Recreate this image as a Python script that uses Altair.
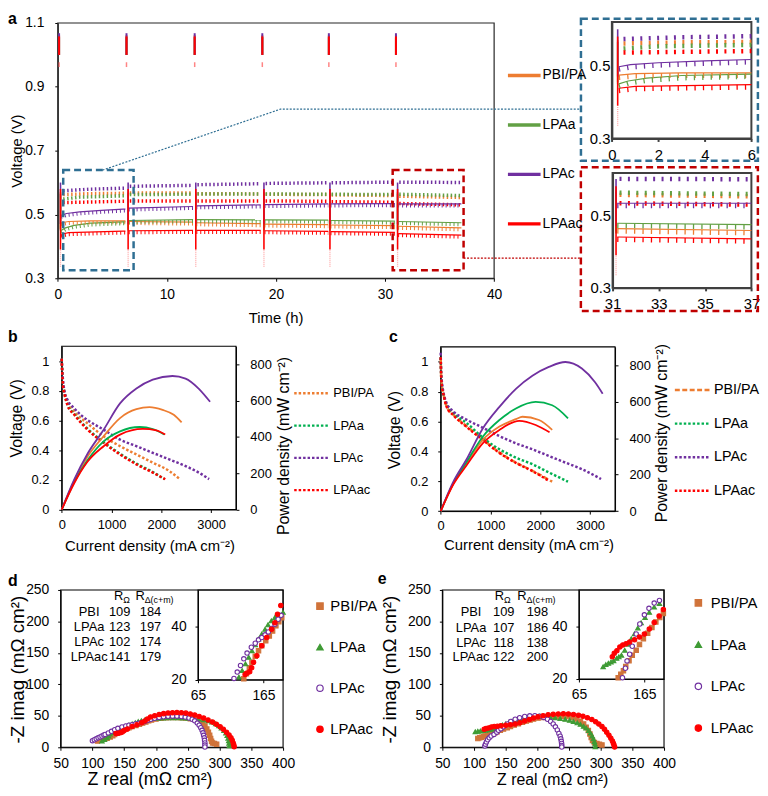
import altair as alt
import pandas as pd

FONT = "Liberation Sans"
W, H = 760, 782


def px(v):
    # page pixel -> chart pixel (8px page margin)
    return v - 8


SERIES = ["PBI/PA", "LPAa", "LPAc", "LPAac"]
COL_A = ["#ED7D31", "#62A044", "#7030A0", "#FF0000"]
COL_BC = ["#ED7D31", "#00B050", "#7030A0", "#FF0000"]
COL_DE = ["#D0733A", "#3F9B35", "#7030A0", "#FF0000"]
FILL_DE = ["#D0733A", "#3F9B35", "#FFFFFF", "#FF0000"]
SHAPES_DE = ["square", "triangle-up", "circle", "circle"]

# ================= panel a : voltage vs time =================
# (time h, voltage V) anchors of the upper (low current) and lower (high current) levels per run segment
A_UPPER = {
    "PBI/PA": [[(0.5, 0.566), (3.0, 0.569), (6.0, 0.570), (6.2, 0.570)], [(6.6, 0.571), (12.4, 0.571)],
               [(12.8, 0.569), (18.6, 0.568)], [(19.05, 0.567), (24.8, 0.566)], [(25.1, 0.565), (30.9, 0.563)],
               [(31.3, 0.561), (37.0, 0.557)]],
    "LPAa": [[(0.5, 0.552), (2.0, 0.558), (6.0, 0.562), (6.2, 0.562)], [(6.6, 0.566), (12.4, 0.567)],
             [(12.8, 0.568), (18.6, 0.568)], [(19.05, 0.568), (24.8, 0.567)], [(25.1, 0.567), (30.9, 0.566)],
             [(31.3, 0.567), (37.0, 0.563)]],
    "LPAc": [[(0.5, 0.578), (3.0, 0.583), (6.0, 0.586), (6.2, 0.586)], [(6.6, 0.592), (12.4, 0.595)],
             [(12.8, 0.597), (18.6, 0.600)], [(19.05, 0.601), (24.8, 0.603)], [(25.1, 0.603), (30.9, 0.605)],
             [(31.3, 0.605), (37.0, 0.604)]],
    "LPAac": [[(0.5, 0.541), (6.0, 0.545), (6.2, 0.545)], [(6.6, 0.546), (12.4, 0.546)],
              [(12.8, 0.546), (18.6, 0.546)], [(19.05, 0.546), (24.8, 0.545)], [(25.1, 0.544), (30.9, 0.542)],
              [(31.3, 0.538), (37.0, 0.534)]],
}
A_LOWER = {
    "PBI/PA": [[(0.3, 0.474), (1.0, 0.478), (3.0, 0.480), (6.0, 0.480), (6.2, 0.480)], [(6.5, 0.478), (12.4, 0.476)],
               [(12.7, 0.474), (18.6, 0.471)], [(18.95, 0.470), (24.8, 0.468)], [(25.0, 0.467), (30.9, 0.465)],
               [(31.2, 0.463), (37.0, 0.458)]],
    "LPAa": [[(0.3, 0.450), (0.7, 0.458), (1.5, 0.466), (3.0, 0.473), (6.0, 0.477), (6.2, 0.477)],
             [(6.5, 0.481), (12.4, 0.484)], [(12.7, 0.484), (18.6, 0.483)], [(18.95, 0.483), (24.8, 0.482)],
             [(25.0, 0.481), (30.9, 0.479)], [(31.2, 0.478), (37.0, 0.474)]],
    "LPAc": [[(0.3, 0.497), (0.8, 0.503), (2.0, 0.508), (4.0, 0.513), (6.0, 0.517), (6.2, 0.517)],
             [(6.5, 0.520), (12.4, 0.525)], [(12.7, 0.527), (18.6, 0.530)], [(18.95, 0.531), (24.8, 0.533)],
             [(25.0, 0.533), (30.9, 0.534)], [(31.2, 0.533), (37.0, 0.533)]],
    "LPAac": [[(0.3, 0.438), (1.0, 0.443), (6.0, 0.448), (6.2, 0.448)], [(6.5, 0.449), (12.4, 0.450)],
              [(12.7, 0.450), (18.6, 0.450)], [(18.95, 0.449), (24.8, 0.447)], [(25.0, 0.446), (30.9, 0.444)],
              [(31.2, 0.440), (37.0, 0.435)]],
}
A_RESTART = [0.25, 6.45, 12.65, 18.9, 24.95, 31.15]
A_TRANS_LO = [0.455, 0.45, 0.47, 0.39]
A_TRANS_HI = [0.57, 0.565, 0.60, 0.58]
A_TAIL = [0.335, 0.39]
A_OCV_T = [0.12, 6.3, 12.55, 18.75, 24.85, 31.0]
A_OCV_LO = [1.0, 1.0, 1.0, 1.0]
A_OCV_HI = [1.062, 1.055, 1.068, 1.058]
A_OCV_DOT = [0.962, 0.977]
A_BOX_BLUE = [0.5, 6.95, 0.325, 0.639]
A_BOX_RED = [30.7, 37.2, 0.325, 0.639]
A_LINK_BLUE_T = [4.1, 20.4, 47.9]
A_LINK_BLUE_V = [0.639, 0.83, 0.83]
A_LINK_RED_T = [37.2, 47.9]
A_LINK_RED_V = [0.363, 0.363]
A_INSET1_BOX = [-1.33, 6.28, 0.239, 0.629]
A_INSET2_BOX = [29.63, 37.28, 0.2365, 0.632]

# ================= panels b, c : polarization (V) and power density =================
B_POL = {
    "PBI/PA": ([0, 10, 25, 53, 118, 250, 513, 842, 1171, 1500, 1829, 2158, 2370],
               [1.016, 0.93, 0.85, 0.80, 0.727, 0.66, 0.582, 0.493, 0.427, 0.371, 0.316, 0.26, 0.205]),
    "LPAa": ([0, 10, 25, 53, 118, 250, 513, 842, 1171, 1500, 1829, 2059],
             [1.016, 0.925, 0.84, 0.785, 0.705, 0.645, 0.546, 0.454, 0.376, 0.309, 0.253, 0.205]),
    "LPAc": ([0, 10, 20, 53, 118, 250, 382, 513, 842, 1171, 1500, 1829, 2158, 2487, 2750, 2960],
             [1.016, 0.93, 0.893, 0.80, 0.738, 0.682, 0.638, 0.604, 0.538, 0.471, 0.427, 0.382, 0.338, 0.293,
              0.249, 0.205]),
    "LPAac": ([0, 10, 25, 53, 118, 250, 513, 842, 1171, 1500, 1829, 2079],
              [1.016, 0.92, 0.835, 0.78, 0.70, 0.64, 0.54, 0.449, 0.371, 0.304, 0.249, 0.204]),
}
B_PWR = {
    "PBI/PA": ([0, 250, 513, 842, 1171, 1500, 1763, 2026, 2250, 2408], [0, 158, 290, 404, 504, 553, 564, 549, 522, 480]),
    "LPAa": ([0, 250, 513, 842, 1171, 1566, 1829, 2059], [0, 150, 270, 376, 431, 455, 444, 413]),
    "LPAc": ([0, 250, 513, 842, 1171, 1500, 1829, 2224, 2487, 2750, 2980],
             [0, 165, 305, 440, 585, 667, 716, 736, 722, 667, 594]),
    "LPAac": ([0, 250, 513, 842, 1171, 1632, 1900, 2079], [0, 145, 262, 349, 413, 444, 436, 413]),
}
C_POL = {
    "PBI/PA": ([0, 10, 25, 53, 119, 252, 517, 848, 1179, 1510, 1841, 2238],
               [1.03, 0.9, 0.84, 0.79, 0.701, 0.646, 0.569, 0.48, 0.392, 0.325, 0.27, 0.197]),
    "LPAa": ([0, 10, 25, 53, 119, 252, 517, 848, 1179, 1510, 1841, 2172, 2556],
             [1.03, 0.9, 0.84, 0.79, 0.712, 0.657, 0.591, 0.491, 0.414, 0.358, 0.314, 0.259, 0.197]),
    "LPAc": ([0, 10, 20, 53, 119, 252, 517, 848, 1179, 1510, 1841, 2172, 2503, 2834, 3219],
             [1.06, 0.92, 0.878, 0.80, 0.723, 0.668, 0.613, 0.558, 0.502, 0.454, 0.414, 0.369, 0.325, 0.281,
              0.215]),
    "LPAac": ([0, 10, 25, 53, 119, 252, 517, 848, 1179, 1510, 1841, 2185],
              [1.03, 0.9, 0.835, 0.785, 0.698, 0.643, 0.565, 0.476, 0.39, 0.323, 0.268, 0.2]),
}
C_PWR = {
    "PBI/PA": ([0, 252, 517, 848, 1179, 1510, 1642, 1974, 2238], [0, 150, 262, 391, 463, 504, 517, 499, 445]),
    "LPAa": ([0, 252, 517, 848, 1179, 1510, 1907, 2238, 2556], [0, 152, 268, 409, 499, 562, 598, 580, 508]),
    "LPAc": ([0, 252, 517, 848, 1179, 1510, 1841, 2172, 2503, 2834, 3099, 3252],
             [0, 160, 283, 454, 571, 670, 742, 790, 817, 781, 706, 643]),
    "LPAac": ([0, 252, 517, 848, 1179, 1576, 1907, 2185], [0, 145, 250, 373, 445, 495, 472, 432]),
}

# ================= panels d, e : Nyquist plots =================
D_EIS = {
    "PBI/PA": ([108, 113, 118, 123, 128, 132, 135, 139, 143.5, 147.5, 152.5, 157.5, 162.5, 168.5, 174, 179, 184,
                188.5, 193, 200, 208, 216, 224, 232, 240, 247, 254, 262, 268, 273, 277, 280, 282.5, 284.5, 286,
                287.5, 289, 292, 295.5],
               [10, 11.5, 13, 14.5, 16.5, 18.5, 20.4, 22.3, 24.5, 26.6, 28.9, 31, 32.9, 34.8, 36.6, 38.5, 40.4, 42,
                43.5, 45, 46.2, 47, 47.3, 47.3, 47, 46.5, 45.5, 44, 41, 37.5, 34, 29, 24, 19, 14, 9.5, 7, 6, 5]),
    "LPAa": ([115, 119, 123, 125.5, 127.5, 132.5, 137.5, 142.5, 147.5, 152.5, 157.5, 162.5, 167.5, 172, 177, 182.5,
              188.5, 195, 203, 211, 219, 227, 235, 243, 251, 259, 267, 275, 282, 288, 294, 299, 303, 307, 310, 312,
              313.5, 314.5, 315, 315.5],
             [10, 12.5, 15, 18, 21, 23.5, 26, 28.5, 31, 33.2, 35.4, 37.3, 39.1, 40.8, 42.3, 43.6, 44.6, 45.5, 46.2,
              46.6, 46.8, 46.8, 46.7, 46.4, 46, 45.5, 44.8, 43.8, 42.3, 40.3, 37.5, 34, 30.5, 26.5, 22.5, 18.5, 14.5,
              10.5, 6.5, 2.5]),
    "LPAc": ([100, 103, 106, 109, 112, 115, 118, 120, 125, 130, 135, 140, 146.5, 152.5, 157.5, 162.5, 167.5, 172.5,
              177.5, 182.5, 187.5, 192, 198, 205, 212, 219, 226, 233, 240, 246, 252, 257, 261, 265, 268, 270.5,
              272.5, 274, 275, 276, 276.5, 277, 277, 277],
             [10.5, 12, 13.5, 15, 16.5, 18, 19.6, 20.5, 22.9, 25.4, 27.9, 30.1, 32.3, 33.8, 35.1, 36, 37, 38.1, 39.4,
              41, 42.9, 44.4, 46, 47.5, 48.5, 49.2, 49.5, 49.5, 49, 48, 46.5, 44.5, 42, 38.5, 35, 31, 27, 23, 19, 15,
              11, 7, 3.5, 0.5]),
    "LPAac": ([137, 140, 144, 147, 150, 155, 162.5, 170, 177.5, 182.5, 186.5, 191.5, 198, 205, 212, 219, 226, 233,
               240, 247, 254, 261, 268, 275, 282, 289, 295, 301, 306, 311, 315, 318, 320, 321.5, 322.5, 323],
              [22, 22.5, 23, 24.5, 26.6, 29.1, 32.9, 36, 39.1, 41.6, 44.8, 48.1, 50, 52, 53.5, 54.5, 55, 55.2, 55,
               54.3, 53, 51.2, 49, 46.5, 43.5, 40, 36.5, 32.5, 28.5, 24, 19.5, 15, 11, 7, 3.5, 1]),
}
E_EIS = {
    "PBI/PA": ([106, 109, 112, 115, 118, 121, 125, 129, 133, 136.5, 141.5, 146.5, 152.5, 157.5, 163.5, 170, 176.5,
                182.5, 188.5, 194, 201, 208, 216, 224, 232, 240, 248, 255, 262, 268, 273, 277, 280.5, 283, 285, 287,
                290, 294, 298, 302],
               [14, 15, 16, 17, 18, 19, 20.5, 21.8, 23.2, 24.8, 27, 29.1, 31, 33.2, 35.4, 37.5, 39.7, 41.8, 43.5, 45,
                46.5, 47.5, 48.2, 48.8, 49.2, 49.3, 49, 47.5, 45, 41.5, 37, 32, 26.5, 21, 15.5, 11, 7.5, 6, 4.8,
                3.7]),
    "LPAa": ([102, 106, 110, 114, 118, 122.5, 126, 130, 135, 140, 145, 150, 155, 160, 166, 172.5, 180, 188, 196,
              204, 212, 220, 228, 236, 244, 251, 257, 263, 268, 273, 277, 281, 284, 286.5, 288.5, 290, 291, 291.5],
             [24.7, 25.5, 26, 26.5, 27, 27.9, 28.5, 29.1, 31, 33.3, 35.4, 37.3, 39.5, 41.5, 43.5, 45.5, 47.5, 48.8,
              49.5, 49.6, 49.2, 48.2, 47, 45.6, 44.5, 43, 41, 38.8, 36.5, 33.5, 30.5, 26.5, 22.5, 18, 13.5, 9, 5,
              1]),
    "LPAc": ([117, 118, 119.5, 121.5, 124, 127, 131.5, 136, 138.5, 142.5, 146.5, 152.5, 158, 165, 172, 180, 188, 196,
              203, 210, 216, 221, 225, 228.5, 231.5, 234, 236, 237, 237.8, 238.3, 238.5, 238.5],
             [2, 5, 8.5, 12, 15, 18, 20.5, 24.1, 26.9, 29.5, 32.5, 37.2, 41, 44.5, 47, 49, 50, 50.2, 49.5, 47.5,
              44.5, 41, 37, 32.5, 27.5, 22, 17.5, 13.5, 9.5, 6, 3, 0.5]),
    "LPAac": ([116, 119, 123, 127.5, 132, 137, 142.5, 150, 157.5, 165, 172.5, 180, 187.5, 194, 201, 209, 217, 225,
               233, 241, 249, 257, 265, 272, 279, 286, 292, 297, 302, 306, 309.5, 313, 316, 318.5, 320, 321, 322],
              [28.5, 29.8, 30.8, 32.2, 33, 33.5, 34.1, 35, 36, 37.2, 39.1, 41.6, 44.1, 46.5, 48.5, 50.3, 51.6, 52.5,
               53, 53.2, 53, 52.3, 51, 49.2, 47, 44, 40.5, 37, 33, 28.5, 24, 19, 14.5, 10, 6.5, 3.5, 0.5]),
}
TAB_NAMES = ["PBI", "LPAa", "LPAc", "LPAac"]
D_R_OHM = [109, 123, 102, 141]
D_R_DELTA = [184, 197, 174, 179]
E_R_OHM = [109, 107, 118, 122]
E_R_DELTA = [198, 186, 138, 200]

# ---------------- layout (page pixels -> chart pixels) ----------------
PA = dict(xd=[0, 40], xr=[px(58.3), px(499.3)], yd=[0.3, 1.1], yr=[px(277), px(19)])
PAI1 = dict(xd=[0, 6], xr=[px(618.3), px(759.3)], yd=[0.3, 0.62], yr=[px(135.7), px(18)])
PAI2 = dict(xd=[31, 37], xr=[px(619), px(759.3)], yd=[0.3, 0.616], yr=[px(286.7), px(170.7)])
PB = dict(xd=[0, 3500], xr=[px(62.3), px(238.4)], yd=[0, 1.1], yr=[px(510.7), px(345.7)])
PC = dict(xd=[0, 3500], xr=[px(445.3), px(621.5)], yd=[0, 1.1], yr=[px(512.3), px(346.3)])
PWR_DOMAIN = [0, 900]
PD = dict(xd=[50, 400], xr=[px(61.2), px(286)], yd=[0, 250], yr=[px(751), px(592)])
PE = dict(xd=[50, 400], xr=[px(447), px(671)], yd=[0, 250], yr=[px(751), px(592)])
PDI = dict(xd=[65, 195], xr=[px(200), px(286)], yd=[20, 54], yr=[px(682.7), px(592)])
PEI = dict(xd=[65, 195], xr=[px(585), px(671)], yd=[20, 54], yr=[px(682), px(592)])


def sc(d, r):
    return alt.Scale(domain=list(d), range=[float(v) for v in r], nice=False, zero=False)


def axis(P, orient, values, fmt, fs, tick=3, pad=5, title=None, tfs=15, tpos=None,
         color="black", width=1.0, ticks=True):
    kw = dict(grid=False, labelFont=FONT, labelColor="black", titleFont=FONT, titleColor="black",
              titleFontWeight="normal", labelFlush=False, labelOverlap=False,
              orient=orient, values=values, format=fmt, labelFontSize=fs, tickSize=tick,
              labelPadding=pad, domainColor=color, tickColor=color, domainWidth=width,
              tickWidth=width, ticks=ticks)
    if orient == "bottom":
        kw["offset"] = P["yr"][0] - H
    elif orient == "left":
        kw["offset"] = -P["xr"][0]
    else:
        kw["offset"] = P["xr"][1] - W
    if title:
        tx, ty = px(tpos[0]), px(tpos[1])
        if orient == "bottom":
            kw.update(titleX=tx, titleY=ty - P["yr"][0], titleAngle=0)
        elif orient == "left":
            kw.update(titleX=tx - P["xr"][0], titleY=ty, titleAngle=270)
        else:
            kw.update(titleX=tx - P["xr"][1], titleY=ty, titleAngle=270)
        kw.update(title=title, titleFontSize=tfs, titleAlign="center", titleBaseline="middle")
    else:
        kw["title"] = None
    return alt.Axis(**kw)


def frame(P, xaxis=None, yaxis=None, color="black", width=1.0):
    df = pd.DataFrame({"x0": [P["xd"][0]], "x1": [P["xd"][1]], "y0": [P["yd"][0]], "y1": [P["yd"][1]]})
    return alt.Chart(df).mark_rect(fillOpacity=0, stroke=color, strokeWidth=width).encode(
        x=alt.X("x0:Q", scale=sc(P["xd"], P["xr"]), axis=xaxis), x2="x1:Q",
        y=alt.Y("y0:Q", scale=sc(P["yd"], P["yr"]), axis=yaxis), y2="y1:Q")


def box(P, b, color, width=2.5):
    df = pd.DataFrame({"x0": [b[0]], "x1": [b[1]], "y0": [b[2]], "y1": [b[3]]})
    return alt.Chart(df).mark_rect(fillOpacity=0, stroke=color, strokeWidth=width, strokeDash=[7, 4]).encode(
        x=alt.X("x0:Q", scale=sc(P["xd"], P["xr"]), axis=None), x2="x1:Q",
        y=alt.Y("y0:Q", scale=sc(P["yd"], P["yr"]), axis=None), y2="y1:Q")


def seg_df(dct, kind):
    rows = []
    for s in SERIES:
        for k, seg in enumerate(dct[s]):
            for t, v in seg:
                rows.append({"s": s, "seg": f"{s}|{kind}|{k}", "t": t, "v": v})
    return pd.DataFrame(rows)


DF_UP = seg_df(A_UPPER, "u")
DF_LO = seg_df(A_LOWER, "l")
DF_TR = pd.DataFrame([{"s": s, "t": t, "lo": A_TRANS_LO[i], "hi": A_TRANS_HI[i]}
                      for i, s in enumerate(SERIES) for t in A_RESTART])
DF_TAIL = pd.DataFrame([{"s": "LPAac", "t": t, "lo": A_TAIL[0], "hi": A_TAIL[1]} for t in A_RESTART])
DF_OCV = pd.DataFrame([{"s": s, "t": t, "lo": A_OCV_LO[i], "hi": A_OCV_HI[i]}
                       for i, s in enumerate(SERIES) for t in A_OCV_T])
DF_OCVDOT = pd.DataFrame([{"t": t, "lo": A_OCV_DOT[0], "hi": A_OCV_DOT[1]} for t in A_OCV_T])


def color_a(legend=None):
    return alt.Color("s:N", scale=alt.Scale(domain=SERIES, range=COL_A), legend=legend)


def a_series_layers(P, lo, hi, inset):
    def sub(df):
        return df[(df.t >= lo) & (df.t <= hi)]
    X = alt.X("t:Q", scale=sc(P["xd"], P["xr"]), axis=None)
    Y = alt.Y("v:Q", scale=sc(P["yd"], P["yr"]), axis=None)
    Yl = alt.Y("lo:Q", scale=sc(P["yd"], P["yr"]), axis=None)
    if inset:
        up = dict(strokeDash=[2, 6.5], strokeWidth=4.5, yOffset=1.8)
        tooth = dict(strokeDash=[1.3, 7.2], strokeWidth=5, yOffset=2.5)
    else:
        up = dict(strokeDash=[1.5, 2.5], strokeWidth=3.5, yOffset=1.2)
        tooth = dict(strokeDash=[1, 3], strokeWidth=3.5, yOffset=1.8)
    return [
        alt.Chart(sub(DF_UP)).mark_line(**up).encode(x=X, y=Y, color=color_a(), detail="seg:N"),
        alt.Chart(sub(DF_LO)).mark_line(strokeWidth=1.2).encode(x=X, y=Y, color=color_a(), detail="seg:N"),
        alt.Chart(sub(DF_LO)).mark_line(**tooth).encode(x=X, y=Y, color=color_a(), detail="seg:N"),
        alt.Chart(sub(DF_TR)).mark_rule(strokeWidth=1.6).encode(x=X, y=Yl, y2="hi:Q", color=color_a()),
        alt.Chart(sub(DF_TAIL)).mark_rule(strokeWidth=1.3, opacity=0.35, strokeDash=[1, 1]).encode(
            x=X, y=Yl, y2="hi:Q", color=color_a()),
    ]


def link(P, ts, vs, color):
    df = pd.DataFrame({"t": ts, "v": vs})
    return alt.Chart(df).mark_line(color=color, strokeWidth=1.2, strokeDash=[2, 1.5]).encode(
        x=alt.X("t:Q", scale=sc(P["xd"], P["xr"]), axis=None),
        y=alt.Y("v:Q", scale=sc(P["yd"], P["yr"]), axis=None))


def empty_df(cols):
    return pd.DataFrame({c: pd.Series([], dtype="object" if c == "s" else "float") for c in cols})


def letter(ch, x, y):
    return alt.Chart(pd.DataFrame({"c": [ch]})).mark_text(
        font=FONT, fontSize=16, fontWeight="bold", align="left", baseline="alphabetic", color="black").encode(
        x=alt.value(x), y=alt.value(y), text="c:N")


layers = []

# ---------------- panel a ----------------
layers.append(frame(PA,
                    axis(PA, "bottom", [0, 10, 20, 30, 40], "d", 14, 3, 6, "Time (h)", 15, (278.5, 317)),
                    axis(PA, "left", [0.3, 0.5, 0.7, 0.9, 1.1], ".1f", 14, 3, 11, "Voltage (V)", 15, (17, 148)),
                    "#262626", 1.2))
XA = alt.X("t:Q", scale=sc(PA["xd"], PA["xr"]), axis=None)
YA = alt.Y("lo:Q", scale=sc(PA["yd"], PA["yr"]), axis=None)
layers += a_series_layers(PA, 0, 40, False)
layers.append(alt.Chart(DF_OCV).mark_rule(strokeWidth=2).encode(x=XA, y=YA, y2="hi:Q", color=color_a()))
layers.append(alt.Chart(DF_OCVDOT).mark_rule(strokeWidth=1.5, color="#FF5050", opacity=0.7).encode(
    x=XA, y=YA, y2="hi:Q"))
layers.append(box(PA, A_BOX_BLUE, "#2F6F93"))
layers.append(box(PA, A_BOX_RED, "#C00000"))
layers.append(link(PA, A_LINK_BLUE_T, A_LINK_BLUE_V, "#2F6F93"))
layers.append(link(PA, A_LINK_RED_T, A_LINK_RED_V, "#C00000"))
LEG_A = alt.Legend(title=None, orient="none", legendX=px(513) - 1.75, legendY=px(72) - 10, clipHeight=20,
                   rowPadding=30, symbolType="stroke", symbolSize=33 * 33, symbolStrokeWidth=3.5,
                   labelFont=FONT, labelFontSize=14, labelColor="black", labelOffset=0, padding=0)
layers.append(alt.Chart(empty_df(["s", "t", "v"])).mark_line(strokeWidth=3.5).encode(
    x=alt.X("t:Q", scale=sc(PA["xd"], PA["xr"]), axis=None),
    y=alt.Y("v:Q", scale=sc(PA["yd"], PA["yr"]), axis=None), color=color_a(LEG_A)))

# insets of panel a
for P, lo, hi, ticks, outer, ocol in [(PAI1, 0, 6, [0, 2, 4, 6], A_INSET1_BOX, "#2F6F93"),
                                       (PAI2, 31, 37, [31, 33, 35, 37], A_INSET2_BOX, "#C00000")]:
    layers.append(frame(P,
                        axis(P, "bottom", ticks, "d", 15, 3, 6, color="#404040", width=2),
                        axis(P, "left", [0.3, 0.5], ".1f", 15, 0, 2, color="#404040", width=2, ticks=False),
                        "#404040", 2))
    layers += a_series_layers(P, lo, hi, True)
    layers.append(box(P, outer, ocol))


# ---------------- panels b, c ----------------
def polar_panel(P, pol, pwr, dashes, leg, titles):
    out = [frame(P,
                 axis(P, "bottom", [0, 1000, 2000, 3000], "d", 13, 3, 6, "Current density (mA cm⁻²)", 15,
                      titles[0]),
                 axis(P, "left", [0, 0.2, 0.4, 0.6, 0.8, 1.0], "~g", 13, 3, 10, "Voltage (V)", 16, titles[1]),
                 "black", 1.1)]
    X = alt.X("j:Q", scale=sc(P["xd"], P["xr"]), axis=None)
    col = alt.Color("s:N", scale=alt.Scale(domain=SERIES, range=COL_BC), legend=None)
    dsh = alt.StrokeDash("s:N", scale=alt.Scale(domain=SERIES, range=dashes), legend=None)
    pol_df = pd.DataFrame([{"s": s, "j": j, "v": v} for s in SERIES for j, v in zip(*pol[s])])
    pwr_df = pd.DataFrame([{"s": s, "j": j, "p": p} for s in SERIES for j, p in zip(*pwr[s])])
    out.append(alt.Chart(pol_df).mark_line(strokeWidth=2.5, interpolate="monotone").encode(
        x=X, y=alt.Y("v:Q", scale=sc(P["yd"], P["yr"]), axis=None), color=col, strokeDash=dsh))
    out.append(alt.Chart(pwr_df).mark_line(strokeWidth=1.8, interpolate="monotone").encode(
        x=X,
        y=alt.Y("p:Q", scale=sc(PWR_DOMAIN, P["yr"]),
                axis=axis(P, "right", [0, 200, 400, 600, 800], "d", 13, 3, 11, "Power density (mW cm⁻²)", 16,
                          titles[2])),
        color=col))
    out.append(alt.Chart(empty_df(["s", "j", "v"])).mark_line(strokeWidth=2.5).encode(
        x=X, y=alt.Y("v:Q", scale=sc(P["yd"], P["yr"]), axis=None),
        color=alt.Color("s:N", scale=alt.Scale(domain=SERIES, range=COL_BC), legend=leg),
        strokeDash=alt.StrokeDash("s:N", scale=alt.Scale(domain=SERIES, range=dashes), legend=leg)))
    return out


DOT = [2.5, 2]
LEG_B = alt.Legend(title=None, orient="none", legendX=px(297) - 1.25, legendY=px(393.3) - 8, clipHeight=16,
                   rowPadding=16.6, symbolType="stroke", symbolSize=36 * 36, symbolStrokeWidth=2.5,
                   labelFont=FONT, labelFontSize=13, labelColor="black", labelOffset=2, padding=0)
LEG_C = alt.Legend(title=None, orient="none", legendX=px(681.7) - 1.25, legendY=px(390) - 8, clipHeight=16,
                   rowPadding=17.9, symbolType="stroke", symbolSize=36 * 36, symbolStrokeWidth=2.5,
                   labelFont=FONT, labelFontSize=14.5, labelColor="black", labelOffset=2, padding=0)
layers += polar_panel(PB, B_POL, B_PWR, [DOT, DOT, DOT, DOT], LEG_B, [(151, 547), (17, 418), (286.7, 446)])
layers += polar_panel(PC, C_POL, C_PWR, [[5, 2.5], DOT, DOT, DOT], LEG_C, [(534, 546), (399, 430), (669, 433)])


# ---------------- panels d, e ----------------
def eis_enc(P, legend=None):
    return dict(
        x=alt.X("x:Q", scale=sc(P["xd"], P["xr"]), axis=None),
        y=alt.Y("y:Q", scale=sc(P["yd"], P["yr"]), axis=None),
        fill=alt.Fill("s:N", scale=alt.Scale(domain=SERIES, range=FILL_DE), legend=legend),
        stroke=alt.Stroke("s:N", scale=alt.Scale(domain=SERIES, range=COL_DE), legend=legend),
        shape=alt.Shape("s:N", scale=alt.Scale(domain=SERIES, range=SHAPES_DE), legend=legend))


def eis_panel(P, PI, data, r_ohm, r_delta, colx, rowy, hdr, leg, xt, yt, xtfs):
    out = [frame(P,
                 axis(P, "bottom", [50, 100, 150, 200, 250, 300, 350, 400], "d", 14, 3, 6,
                      "Z real (mΩ cm²)", xtfs, xt),
                 axis(P, "left", [0, 50, 100, 150, 200, 250], "d", 14, 3, 9, "-Z imag (mΩ cm²)", 19, yt),
                 "black", 1.1)]
    df = pd.DataFrame([{"s": s, "x": x, "y": y} for s in SERIES for x, y in zip(*data[s])])
    out.append(alt.Chart(df).mark_point(size=20, opacity=1, strokeWidth=1.1).encode(**eis_enc(P)))
    # inset
    out.append(frame(PI,
                     axis(PI, "bottom", [65, 165], "d", 14, 3, 6),
                     axis(PI, "left", [20, 40], "d", 14, 3, 9),
                     "black", 1.1))
    dfi = df[(df.x >= PI["xd"][0]) & (df.x <= PI["xd"][1]) & (df.y >= PI["yd"][0]) & (df.y <= PI["yd"][1])]
    out.append(alt.Chart(dfi).mark_point(size=20, opacity=1, strokeWidth=1.1).encode(**eis_enc(PI)))
    # legend carrier
    out.append(alt.Chart(empty_df(["s", "x", "y"])).mark_point(size=42, opacity=1, strokeWidth=1.2).encode(
        **eis_enc(P, leg)))
    # table
    cells = []
    for i, name in enumerate(TAB_NAMES):
        for c, txt in enumerate([name, str(r_ohm[i]), str(r_delta[i])]):
            cells.append({"t": txt, "x": colx[c], "y": rowy[i]})
    X = alt.X("x:Q", scale=sc(P["xd"], P["xr"]), axis=None)
    Y = alt.Y("y:Q", scale=sc(P["yd"], P["yr"]), axis=None)
    out.append(alt.Chart(pd.DataFrame(cells)).mark_text(font=FONT, fontSize=13, align="center",
                                                        baseline="alphabetic", color="black").encode(
        x=X, y=Y, text="t:N"))
    hdr_df = pd.DataFrame({"t": ["R", "R"], "sub": ["Ω", "Δ(c+m)"], "x": [hdr[0], hdr[1]], "y": [hdr[2], hdr[2]]})
    out.append(alt.Chart(hdr_df).mark_text(font=FONT, fontSize=13, align="left", baseline="alphabetic",
                                           color="black").encode(x=X, y=Y, text="t:N"))
    out.append(alt.Chart(hdr_df).mark_text(font=FONT, fontSize=9, align="left", baseline="alphabetic",
                                           color="black", dx=9.4, dy=3).encode(x=X, y=Y, text="sub:N"))
    return out


LEG_D = alt.Legend(title=None, orient="none", legendX=px(319.3) - 3.5, legendY=px(608.3) - 8, clipHeight=16,
                   rowPadding=25.5, symbolSize=42, symbolStrokeWidth=1.2, labelFont=FONT, labelFontSize=15,
                   labelColor="black", labelOffset=3, padding=0)
LEG_E = alt.Legend(title=None, orient="none", legendX=px(701.7) - 3.5, legendY=px(605) - 8, clipHeight=16,
                   rowPadding=26.2, symbolSize=42, symbolStrokeWidth=1.2, labelFont=FONT, labelFontSize=15,
                   labelColor="black", labelOffset=5, padding=0)
layers += eis_panel(PD, PDI, D_EIS, D_R_OHM, D_R_DELTA, [94.8, 142.8, 191.4], [208.6, 185.1, 161.5, 137.9],
                    (133.8, 167.6, 234.7), LEG_D, (151, 784), (18, 672), 18)
layers += eis_panel(PE, PEI, E_EIS, E_R_OHM, E_R_DELTA, [95.3, 146.9, 200], [208.6, 184, 160, 136.8],
                    (132.8, 168.3, 234.7), LEG_E, (558, 784), (394, 672), 16)

# panel letters
layers.append(letter("a", 0, 12))
layers.append(letter("b", 0, px(341.7)))
layers.append(letter("c", px(393), px(341.7)))
layers.append(letter("d", 0, px(588)))
layers.append(letter("e", px(381.7), px(586)))

chart = alt.layer(*layers).properties(
    width=W, height=H, padding=0, autosize=alt.AutoSizeParams(type="none")
).resolve_scale(
    x="independent", y="independent", color="independent", strokeDash="independent",
    fill="independent", stroke="independent", shape="independent"
).configure(font=FONT).configure_view(stroke=None)

chart.save("out.html", embed_options={"renderer": "svg", "actions": False})
